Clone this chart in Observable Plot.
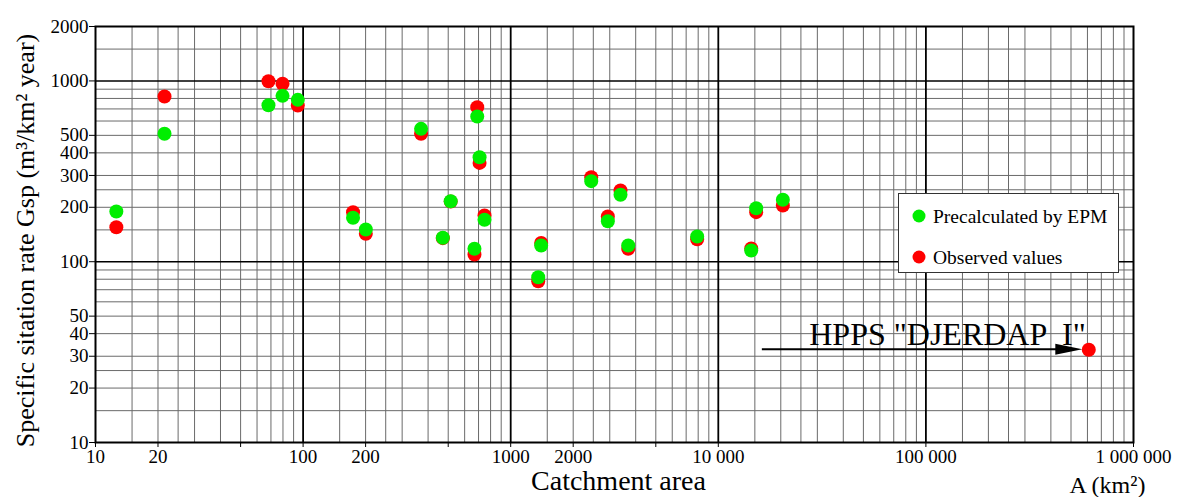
<!DOCTYPE html>
<html>
<head>
<meta charset="utf-8">
<script src="https://cdn.jsdelivr.net/npm/d3@7"></script>
<script src="https://cdn.jsdelivr.net/npm/@observablehq/plot@0.6"></script>
<style>
  html, body { margin: 0; padding: 0; background: #fff; }
  svg { display: block; }
  svg text { white-space: pre; font-family: "Liberation Serif", "Times New Roman", Times, serif !important; }
  svg g[aria-label="x-axis tick label"], svg g[aria-label="y-axis tick label"] { font-size: 19px; }
</style>
</head>
<body>
<div id="chart"></div>
<script>
// ---- Data ----
const area          = [12.6, 21.5, 68.1, 79.6, 94.3, 174, 200.5, 370, 514, 471, 690, 708, 748, 669, 2443, 3380, 2937, 1402, 3682, 1357, 7910, 14410, 15220, 20460];
const precalculated = [189.5, 510, 734, 827, 786, 175, 150.7, 543, 216, 135.6, 636, 378.5, 170.5, 117.9, 279, 234.5, 167.5, 123, 123, 82, 137.8, 115.3, 197.7, 220];
const observed      = [155, 820, 996, 964, 731, 188, 142.6, 510, 215, 135, 716, 352, 180, 109.6, 293.5, 247.6, 178, 127, 117.9, 78, 133, 118.3, 188, 204.6];

// HPPS "DJERDAP I" (observed only)
const djerdapArea = [609000];
const djerdapGsp  = [32.6];
const djerdapLabel = ['HPPS "DJERDAP  I"'];
const arrowTailArea = 16300;

// Axis ticks and labels
const xTicks = [10, 20, 50, 100, 200, 500, 1000, 2000, 5000, 10000, 100000, 1000000];
const xTickLabels = ["10", "20", "50", "100", "200", "500", "1000", "2000", "5000", "10 000", "100 000", "1 000 000"];
const yTicks = [10, 20, 30, 40, 50, 100, 200, 300, 400, 500, 1000, 2000];
const yTickLabels = ["10", "20", "30", "40", "50", "100", "200", "300", "400", "500", "1000", "2000"];

// Grid
const gridMultipliers = [1, 1.5, 2, 2.5, 3, 4, 5, 6, 7, 8, 9];
const xDecades = [10, 100, 1000, 10000, 100000];
const yDecades = [10, 100, 1000];
const xMajorGrid = [100, 1000, 10000, 100000];
const yMajorGrid = [100, 1000];

const seriesNames = ["Precalculated by EPM", "Observed values"];
const seriesColors = ["#00ee00", "#ff0000"];

const xTitle = "Catchment area";
const xUnit = "A (km\u00b2)";
const yTitle = "Specific sitation rate Gsp (m\u00b3/km\u00b2 year)";

// ---- Derived tables ----
const xGrid = xDecades.flatMap(d => gridMultipliers.map(m => d * m)).filter(v => !xMajorGrid.includes(v) && v > 10);
const yGrid = yDecades.flatMap(d => gridMultipliers.map(m => d * m)).filter(v => !yMajorGrid.includes(v) && v > 10 && v < 2000);
const xLabelMap = new Map(xTicks.map((t, i) => [t, xTickLabels[i]]));
const yLabelMap = new Map(yTicks.map((t, i) => [t, yTickLabels[i]]));

const pre = area.map((a, i) => ({a, v: precalculated[i]}));
const obs = area.map((a, i) => ({a, v: observed[i]})).concat(djerdapArea.map((a, i) => ({a, v: djerdapGsp[i]})));
const djerdap = djerdapArea.map((a, i) => ({a, v: djerdapGsp[i], label: djerdapLabel[i]}));

const FONT = "Liberation Serif, Times New Roman, Times, serif";

function arrowMark(index, scales, values, dimensions) {
  const g = d3.create("svg:g");
  const y0 = scales.y(djerdapGsp[0]);
  const x0 = scales.x(arrowTailArea);
  const tip = scales.x(djerdapArea[0]) - 6;
  const headLen = 27, headHalf = 5.5;
  g.append("line")
    .attr("x1", x0).attr("x2", tip - headLen + 2)
    .attr("y1", y0).attr("y2", y0)
    .attr("stroke", "#000").attr("stroke-width", 2);
  g.append("path")
    .attr("d", `M${tip},${y0}L${tip - headLen},${y0 - headHalf}L${tip - headLen},${y0 + headHalf}Z`)
    .attr("fill", "#000");
  return g.node();
}

function legendMark(index, scales, values, dimensions) {
  const {width, marginRight} = dimensions;
  const right = width - marginRight - 15;
  const boxW = 220, boxH = 79, top = 193;
  const left = right - boxW;
  const g = d3.create("svg:g");
  g.append("rect")
    .attr("x", left + 0.5).attr("y", top + 0.5)
    .attr("width", boxW).attr("height", boxH)
    .attr("fill", "#fff").attr("stroke", "#333").attr("stroke-width", 1);
  seriesNames.forEach((name, i) => {
    const cy = top + 23 + i * 41;
    g.append("circle").attr("cx", left + 21).attr("cy", cy).attr("r", 6.5).attr("fill", seriesColors[i]);
    g.append("text")
      .attr("x", left + 35).attr("y", cy + 7)
      .attr("text-anchor", "start")
      .style("text-anchor", "start")
      .attr("font-size", 19.5)
      .style("font-size", "19.5px")
      .attr("fill", "#000").text(name);
  });
  return g.node();
}

const plot = Plot.plot({
  width: 1177,
  height: 497,
  marginLeft: 95,
  marginRight: 44,
  marginTop: 26,
  marginBottom: 55,
  style: {fontFamily: FONT, fontSize: "19px", color: "#000", background: "#fff", overflow: "visible"},
  x: {type: "log", domain: [10, 1000000], ticks: xTicks, tickFormat: d => xLabelMap.get(d), tickSize: 5, tickPadding: 2, label: null},
  y: {type: "log", domain: [10, 2000], ticks: yTicks, tickFormat: d => yLabelMap.get(d), tickSize: 6, tickPadding: 1, label: null},
  marks: [
    Plot.ruleX(xGrid, {stroke: "#6a6a6a", strokeWidth: 1}),
    Plot.ruleY(yGrid, {stroke: "#6a6a6a", strokeWidth: 1}),
    Plot.ruleX(xMajorGrid, {stroke: "#000", strokeWidth: 1.8}),
    Plot.ruleY(yMajorGrid, {stroke: "#000", strokeWidth: 1.5}),
    Plot.frame({stroke: "#000", strokeWidth: 2}),
    arrowMark,
    Plot.text(djerdap, {x: "a", y: "v", text: "label", textAnchor: "end", lineAnchor: "bottom", dx: -3, dy: -5, fontSize: 32, fill: "#000"}),
    Plot.dot(obs, {x: "a", y: "v", r: 7, fill: seriesColors[1], stroke: "none"}),
    Plot.dot(pre, {x: "a", y: "v", r: 7, fill: seriesColors[0], stroke: "none"}),
    legendMark,
    Plot.text([xTitle], {text: d => d, frameAnchor: "bottom", dx: 4, dy: 47, lineAnchor: "bottom", textAnchor: "middle", fontSize: 28, fill: "#000"}),
    Plot.text([xUnit], {text: d => d, frameAnchor: "bottom-right", dx: -26, dy: 50, lineAnchor: "bottom", textAnchor: "middle", fontSize: 24, fill: "#000"}),
    Plot.text([yTitle], {text: d => d, frameAnchor: "left", rotate: -90, dx: -70, dy: 6, textAnchor: "middle", lineAnchor: "middle", fontSize: 26, fill: "#000"})
  ]
});

document.getElementById("chart").appendChild(plot);
</script>
</body>
</html>
